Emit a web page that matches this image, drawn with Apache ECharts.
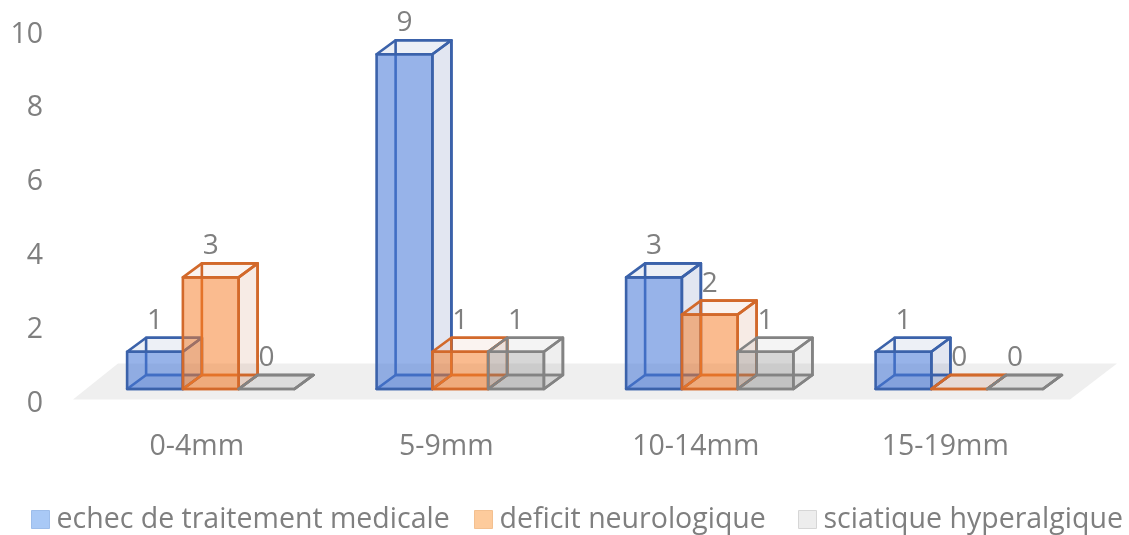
<!DOCTYPE html>
<html><head><meta charset="utf-8">
<style>html,body{margin:0;padding:0;background:#fff}#c{width:1129px;height:535px}</style>
<script src="https://cdn.jsdelivr.net/npm/echarts@6/dist/echarts.min.js"></script>
</head><body><div id="c"></div>
<script>
var categories = ['0-4mm', '5-9mm', '10-14mm', '15-19mm'];
var echecValues = [1, 9, 3, 1];
var deficitValues = [3, 1, 2, 0];
var sciatiqueValues = [0, 1, 1, 0];
var seriesNames = ['echec de traitement medicale', 'deficit neurologique', 'sciatique hyperalgique'];
var yTicks = [0, 2, 4, 6, 8, 10];

var FONT = '"Open Sans"';
var TEXT = '#7f7f7f';
var DX = 19, DY = -14;
var palette = [
  {stroke:'#3b62aa', front:'rgba(70,120,215,0.56)', side:'rgba(60,90,160,0.15)', top:'rgba(60,90,160,0.09)', legend:'#a9c9f6', legendBorder:'#9dbdea'},
  {stroke:'#d2692b', front:'rgba(245,125,40,0.52)', side:'rgba(190,90,40,0.12)', top:'rgba(190,90,40,0.07)', legend:'#fdcb9c', legendBorder:'#f3c090'},
  {stroke:'#838383', front:'rgba(130,130,130,0.33)', side:'rgba(130,130,130,0.13)', top:'rgba(130,130,130,0.09)', legend:'#ededed', legendBorder:'#d6d6d6'}
];

function poly(pts, fill, stroke) {
  return {type:'polygon', shape:{points:pts}, style:{fill:fill, stroke:stroke, lineWidth:stroke ? 2.6 : 0, lineJoin:'round'}};
}
function barRender(idx) {
  return function (params, api) {
    var p = palette[idx];
    var cat = api.value(0), val = api.value(1);
    var base = api.coord([cat, 0]), top = api.coord([cat, val]);
    var w = api.size([1, 0])[0] * 0.2235;
    var xl = base[0] + (idx - 1.5) * w, xr = xl + w;
    var yb = base[1], yt = top[1];
    var b = function (x, y) { return [x + DX, y + DY]; };
    var kids = [
      poly([b(xl,yb), b(xr,yb), b(xr,yt), b(xl,yt)], 'rgba(255,255,255,0)', p.stroke),
      poly([[xl,yb],[xr,yb],b(xr,yb),b(xl,yb)], val === 0 ? p.top : p.side, p.stroke),
      poly([[xr,yb],b(xr,yb),b(xr,yt),[xr,yt]], p.side, p.stroke),
      poly([[xl,yt],[xr,yt],b(xr,yt),b(xl,yt)], p.top, p.stroke)
    ];
    if (val > 0) kids.push(poly([[xl,yb],[xr,yb],[xr,yt],[xl,yt]], p.front, p.stroke));
    return {type:'group', children:kids};
  };
}
function labelRender(idx) {
  return function (params, api) {
    var cat = api.value(0), val = api.value(1);
    var top = api.coord([cat, val]);
    var w = api.size([1, 0])[0] * 0.2235;
    var xc = top[0] + (idx - 1) * w;
    return {type:'text', style:{x:xc, y:top[1] + DY - 17, text:String(val), fill:TEXT,
      font:'28px ' + FONT, textAlign:'center', textVerticalAlign:'middle'}};
  };
}
function floorRender(params) {
  var c = params.coordSys;
  var l = c.x, r = c.x + c.width, y = c.y + c.height - 4;
  return {type:'polygon', silent:true, shape:{points:[[l+1,y],[r,y],[r+47,y-36],[l+46,y-36]]}, style:{fill:'#efefef'}};
}
function toData(vals) { return vals.map(function (v, i) { return [i, v]; }); }
var valueSets = [echecValues, deficitValues, sciatiqueValues];

var series = [{type:'custom', xAxisIndex:0, yAxisIndex:0, renderItem:floorRender, data:[[0,0]], silent:true, z:1}];
valueSets.forEach(function (vals, i) {
  series.push({name:seriesNames[i], type:'custom', xAxisIndex:1, yAxisIndex:1, renderItem:barRender(i),
    data:toData(vals), z:2 + i, itemStyle:{color:palette[i].legend}, animation:false, clip:false});
});
valueSets.forEach(function (vals, i) {
  series.push({type:'custom', xAxisIndex:1, yAxisIndex:1, renderItem:labelRender(i), data:toData(vals), z:10, clip:false});
});

function legendItem(i, left, size) {
  return {left:left, top:503, itemWidth:18, itemHeight:18, itemGap:0, icon:'rect', selectedMode:false,
    padding:[2,0,2,0],
    textStyle:{color:TEXT, fontFamily:FONT, fontSize:size, padding:[0,0,0,2]},
    data:[{name:seriesNames[i], icon:'rect', itemStyle:{color:palette[i].legend, borderColor:palette[i].legendBorder, borderWidth:1}}]};
}
var option = {
  animation:false,
  backgroundColor:'#fff',
  legend:[legendItem(0, 31, 28.5), legendItem(1, 474, 28.5), legendItem(2, 798, 28.5)],
  grid:[
    {left:72, width:998, top:34.5, height:369},
    {left:86, width:998, top:17, height:372}
  ],
  xAxis:[
    {type:'category', gridIndex:0, data:categories, axisLine:{show:false}, axisTick:{show:false}, splitLine:{show:false},
     axisLabel:{color:TEXT, fontFamily:FONT, fontSize:28.5, margin:29}},
    {type:'category', gridIndex:1, data:categories, show:false}
  ],
  yAxis:[
    {type:'value', gridIndex:0, min:0, max:10, interval:2, axisLine:{show:false}, axisTick:{show:false}, splitLine:{show:false},
     axisLabel:{color:TEXT, fontFamily:FONT, fontSize:28.5, margin:29, customValues:yTicks}},
    {type:'value', gridIndex:1, min:0, max:10, show:false}
  ],
  series:series
};
echarts.init(document.getElementById('c')).setOption(option);
</script></body></html>
